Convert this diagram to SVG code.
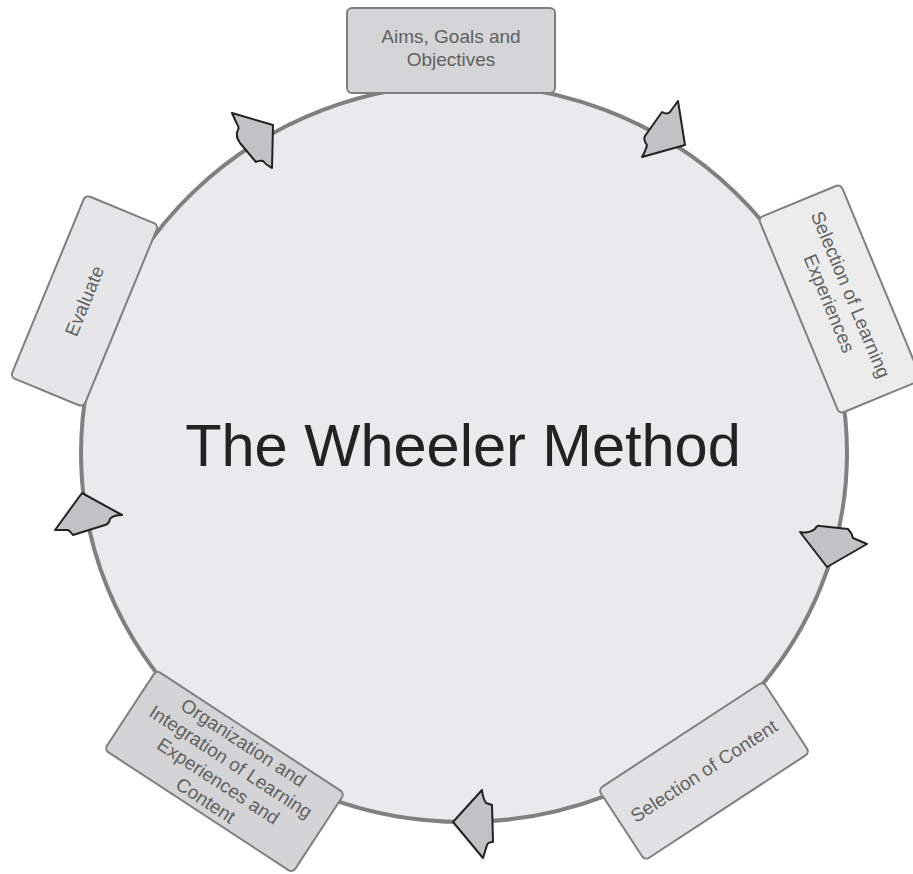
<svg xmlns="http://www.w3.org/2000/svg" width="913" height="874" viewBox="0 0 913 874">
<style>
.box{stroke:#7f7f7f;stroke-width:2}
.lbl{font-family:"Liberation Sans",Arial,sans-serif;font-size:19px;fill:#616161;text-anchor:middle}
.arr{fill:#c2c2c4;stroke:#222;stroke-width:2;stroke-linejoin:round}
</style>
<rect width="913" height="874" fill="#ffffff"/>
<g id="wheel">
<ellipse cx="464" cy="453" rx="383" ry="369" fill="#e9eaec" stroke="#808080" stroke-width="4"/>
<text x="463" y="466" font-family="Liberation Sans,Arial,sans-serif" font-size="59.5" fill="#222" text-anchor="middle">The Wheeler Method</text>
</g>
<g id="connectors">
<path class="arr" d="M678,101 L685,145 L642,157 Q646,150 647,145 Q643,140 645,136 L662,112 Q667,115 670,112 Z"/>
<path class="arr" d="M800,532 Q808,534 815,529 Q817,525 820,526 L848,529 Q852,533 853,538 L867,544 L827,567 Z"/>
<path class="arr" d="M482,790 Q483,799 486,803 L492,805 L493,842 Q488,842 487,845 L483,858 L453,822 Z"/>
<path class="arr" d="M82,493 L122,515 Q113,515 110,519 Q109,524 105,525 L73,535 Q70,531 68,530 L55,530 Z"/>
<path class="arr" d="M232,113 L273,125 L272,168 Q266,165 263,161 Q259,160 256,162 L240,143 Q236,138 237,132 Q240,128 237,124 Z"/>
</g>
<g id="aims">
<rect class="box" x="347" y="8" width="208" height="85" rx="5" fill="#d5d5d7"/>
<text class="lbl" x="451" y="43">Aims, Goals and</text>
<text class="lbl" x="451" y="66">Objectives</text>
</g>
<g id="learning" transform="translate(840,299) rotate(67.5)">
<rect class="box" x="-106" y="-44.5" width="212" height="89" rx="5" fill="#ececed"/>
<text class="lbl" x="0" y="-5">Selection of Learning</text>
<text class="lbl" x="0" y="18">Experiences</text>
</g>
<g id="content" transform="translate(704,771) rotate(-33.2)">
<rect class="box" x="-98.5" y="-42.5" width="197" height="85" rx="5" fill="#e1e1e3"/>
<text class="lbl" x="0" y="6.5">Selection of Content</text>
</g>
<g id="organization" transform="translate(224.5,771.5) rotate(33.2)">
<rect class="box" x="-112.5" y="-47.5" width="225" height="95" rx="5" fill="#d4d4d6"/>
<text class="lbl" x="0" y="-28">Organization and</text>
<text class="lbl" x="0" y="-5">Integration of Learning</text>
<text class="lbl" x="0" y="18">Experiences and</text>
<text class="lbl" x="0" y="41">Content</text>
</g>
<g id="evaluate" transform="translate(84.5,301) rotate(-67.6)">
<rect class="box" x="-98.5" y="-39.5" width="197" height="79" rx="5" fill="#e6e6e8"/>
<text class="lbl" x="0" y="6.5">Evaluate</text>
</g>
</svg>
